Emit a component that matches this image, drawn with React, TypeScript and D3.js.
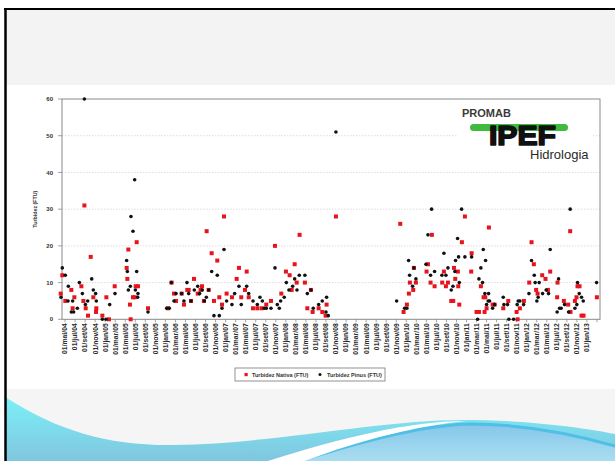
import React from "react";
import * as d3 from "d3";

const W = 615;
const H = 461;

// Bimonthly axis labels (positions 0..52 along the sampling axis)
const xTickLabels: string[] = [
  "01/mai/04", "01/jul/04", "01/set/04", "01/nov/04",
  "01/jan/05", "01/mar/05", "01/mai/05", "01/jul/05", "01/set/05", "01/nov/05",
  "01/jan/06", "01/mar/06", "01/mai/06", "01/jul/06", "01/set/06", "01/nov/06",
  "01/jan/07", "01/mar/07", "01/mai/07", "01/jul/07", "01/set/07", "01/nov/07",
  "01/jan/08", "01/mar/08", "01/mai/08", "01/jul/08", "01/set/08", "01/nov/08",
  "01/jan/09", "01/mar/09", "01/mai/09", "01/jul/09", "01/set/09", "01/nov/09",
  "01/jan/10", "01/mar/10", "01/mai/10", "01/jul/10", "01/set/10", "01/nov/10",
  "01/jan/11", "01/mar/11", "01/mai/11", "01/jul/11", "01/set/11", "01/nov/11",
  "01/jan/12", "01/mar/12", "01/mai/12", "01/jul/12", "01/set/12", "01/nov/12",
  "01/jan/13",
];

const yTicks: number[] = [0, 10, 20, 30, 40, 50, 60];

// [position on the bimonthly axis, turbidity in FTU]
const turbidezNativa: [number, number][] = [
  [-0.43, 7], [-0.27, 12], [0.03, 5], [0.63, 8], [0.76, 3], [0.93, 6], [1.63, 9], [1.83, 5],
  [1.93, 31], [2.06, 3], [2.29, 1], [2.56, 17], [2.82, 6], [3.09, 2], [3.12, 3], [3.72, 1],
  [4.12, 6], [4.38, 0], [4.95, 9], [6.14, 14], [6.21, 11], [6.31, 19], [6.47, 4], [6.54, 0],
  [6.77, 6], [6.94, 6], [7.04, 9], [7.14, 21], [7.27, 9], [8.27, 3], [10.26, 3], [10.62, 10],
  [10.86, 7], [11.06, 5], [11.62, 7], [11.85, 4], [12.18, 8], [12.32, 8], [12.55, 5], [12.85, 11],
  [13.22, 7], [13.51, 8], [13.65, 9], [13.84, 5], [14.11, 24], [14.31, 8], [14.61, 18], [14.84, 5],
  [15.17, 16], [15.37, 6], [15.64, 4], [15.84, 28], [16.1, 7], [16.63, 6], [17.1, 11], [17.33, 14],
  [17.56, 6], [17.93, 8], [18.1, 13], [18.3, 6], [18.73, 3], [19.16, 3], [19.59, 3], [20.05, 4],
  [20.52, 5], [20.92, 20], [21.55, 7], [22.01, 13], [22.38, 12], [22.58, 8], [22.88, 15], [23.08, 10],
  [23.37, 23], [23.9, 10], [24.14, 3], [24.5, 8], [24.67, 2], [25.27, 3], [25.63, 2], [25.96, 1],
  [26.06, 4], [26.99, 28],
  [33.4, 26], [33.73, 2], [34.06, 4], [34.26, 7], [34.36, 10], [34.69, 8], [34.76, 14], [34.96, 10],
  [36.02, 13], [36.16, 15], [36.42, 10], [36.55, 23], [36.82, 9], [37.58, 10], [37.75, 13], [37.95, 9],
  [38.15, 10], [38.48, 5], [38.68, 5], [38.75, 14], [38.88, 11], [39.14, 13], [39.18, 9], [39.28, 4],
  [39.54, 21], [39.84, 28], [40.47, 13], [40.51, 18], [41.0, 2], [41.24, 2], [41.43, 9], [41.7, 6],
  [41.8, 2], [41.87, 6], [42.0, 3], [42.23, 25], [42.6, 4], [42.8, 4], [43.66, 3], [44.16, 5],
  [44.99, 2], [45.09, 0], [45.32, 3], [45.72, 5], [46.25, 10], [46.48, 21], [46.71, 15], [46.94, 8],
  [47.08, 7], [47.54, 12], [47.87, 11], [48.11, 8], [48.34, 13], [49.03, 6], [49.07, 10], [49.7, 5],
  [50.13, 4], [50.33, 24], [50.36, 2], [50.8, 5], [50.96, 6], [51.06, 9], [51.26, 9], [51.46, 1],
  [51.66, 1], [52.99, 6],
];

const turbidezPinus: [number, number][] = [
  [-0.4, 6], [-0.27, 14], [0.03, 12], [0.3, 5], [0.33, 9], [0.63, 2], [0.76, 5], [0.86, 2],
  [1.23, 3], [1.43, 10], [1.73, 7], [1.93, 60], [2.03, 4], [2.26, 5], [2.66, 11], [2.82, 8],
  [3.05, 7], [3.12, 5], [3.72, 0], [4.08, 0], [4.45, 4], [4.98, 7], [6.14, 16], [6.21, 13],
  [6.31, 8], [6.51, 9], [6.57, 28], [6.77, 24], [6.94, 38], [7.01, 8], [7.14, 13], [7.24, 6],
  [7.27, 7], [8.27, 2], [10.13, 3], [10.39, 3], [10.59, 10], [10.86, 5], [11.06, 7], [11.62, 7],
  [11.85, 5], [12.15, 10], [12.32, 7], [12.55, 5], [12.88, 8], [13.22, 9], [13.41, 7], [13.68, 8],
  [13.88, 5], [14.08, 6], [14.31, 8], [14.61, 13], [14.84, 1], [15.17, 12], [15.37, 1], [15.64, 3],
  [15.84, 19], [16.1, 5], [16.63, 4], [16.9, 7], [17.33, 9], [17.56, 4], [18.1, 9], [18.3, 7],
  [18.73, 5], [19.16, 4], [19.42, 6], [19.66, 5], [19.85, 3], [20.05, 3], [20.52, 3], [20.92, 14],
  [21.15, 4], [21.35, 3], [21.48, 5], [21.84, 6], [22.05, 10], [22.31, 8], [22.68, 9], [22.88, 11],
  [23.11, 8], [23.34, 12], [23.9, 12], [24.14, 7], [24.5, 8], [24.73, 3], [25.27, 4], [25.63, 5],
  [26.0, 2], [26.06, 6], [26.23, 1], [26.99, 51],
  [33.04, 5], [33.83, 3], [34.06, 3], [34.23, 16], [34.33, 12], [34.63, 9], [34.76, 14], [34.96, 11],
  [35.96, 15], [36.16, 23], [36.42, 12], [36.52, 30], [36.82, 13], [37.55, 12], [37.75, 18], [37.95, 12],
  [38.15, 14], [38.48, 8], [38.65, 9], [38.84, 13], [38.91, 16], [39.11, 22], [39.21, 17], [39.28, 10],
  [39.51, 30], [39.84, 17], [40.51, 17], [41.11, 0], [41.24, 11], [41.43, 14], [41.6, 10], [41.67, 19],
  [41.83, 7], [41.9, 16], [42.0, 4], [42.16, 5], [42.2, 7], [42.3, 5], [42.6, 3], [42.8, 4],
  [43.66, 6], [43.73, 4], [44.09, 4], [44.22, 0], [44.69, 0], [45.05, 4], [45.15, 5], [45.32, 5],
  [45.69, 4], [46.22, 7], [46.48, 16], [46.75, 12], [46.84, 10], [47.01, 5], [47.14, 6], [47.24, 10],
  [47.58, 7], [47.94, 8], [48.17, 7], [48.34, 19], [49.03, 2], [49.17, 11], [49.27, 3], [49.43, 3],
  [49.77, 4], [50.17, 2], [50.33, 30], [50.8, 3], [50.99, 4], [51.06, 10], [51.23, 7], [51.46, 6],
  [51.63, 5], [52.96, 10],
];

const seriesNames = ["Turbidez Nativa (FTU)", "Turbidez Pinus (FTU)"];
const yTitle = "Turbidez (FTU)";

const RED = "#e8141c";
const BLACK = "#111111";
const AXIS = "#8a8a8a";
const FONT = "'Liberation Sans', Arial, sans-serif";

export default function App() {
  const plot = { left: 62, right: 600, top: 99, bottom: 319.3 };
  const x = d3.scaleLinear().domain([-0.3, 53.3]).range([plot.left, plot.right]);
  const y = d3.scaleLinear().domain([0, 60]).range([plot.bottom, plot.top]);
  const xTickPositions = d3.range(0, xTickLabels.length + 1);

  // Decorative slide waves
  const outerWave =
    "M5,397 C60,432 110,446 175,445 C270,444 380,420 462,420 C530,420 585,428 615,434 L615,461 L5,461 Z";
  const whiteStripe =
    "M268,461 C340,438 410,421 466,421 C420,425 360,440 305,461 Z";
  const innerWave =
    "M300,461 C365,440 425,425 470,424 C530,424 580,436 615,446 L615,461 Z";
  const innerEdge = "M300,461 C365,440 425,425 470,424 C530,424 580,436 615,446";

  return (
    <div style={{ position: "fixed", left: 0, top: 0, width: W, height: H, background: "#fff" }}>
      <svg width={W} height={H} style={{ display: "block" }} fontFamily={FONT}>
        <defs>
          <linearGradient id="outerGrad" x1="0" y1="0" x2="0" y2="1">
            <stop offset="0%" stopColor="#7cf0f7" />
            <stop offset="100%" stopColor="#80c6df" />
          </linearGradient>
          <linearGradient id="innerGrad" x1="0" y1="0" x2="0" y2="1">
            <stop offset="0%" stopColor="#86c6ea" />
            <stop offset="100%" stopColor="#a9def0" />
          </linearGradient>
        </defs>

        {/* slide background */}
        <rect x={0} y={0} width={W} height={H} fill="#ffffff" />
        <rect x={5} y={10} width={W - 5} height={75} fill="#f3f3f3" />
        <rect x={5} y={389} width={W - 5} height={H - 389} fill="#f5f5f5" />
        <path d={outerWave} fill="url(#outerGrad)" />
        <path d={innerWave} fill="url(#innerGrad)" />
        <path d={innerEdge} fill="none" stroke="#4fbfe6" strokeWidth={3} />
        <path d={whiteStripe} fill="#ffffff" />
        <line x1={4} x2={W} y1={9} y2={9} stroke="#000" strokeWidth={2} />
        <line x1={5.5} x2={5.5} y1={8} y2={H} stroke="#000" strokeWidth={2.5} />

        {/* gridlines */}
        {yTicks.filter((t) => t > 0 && t < 60).map((t) => (
          <line key={"g" + t} x1={plot.left} x2={plot.right} y1={y(t)} y2={y(t)}
            stroke="#cfcfcf" strokeWidth={0.7} strokeDasharray="1.5,1.5" />
        ))}

        {/* plot frame */}
        <rect x={plot.left} y={plot.top} width={plot.right - plot.left} height={plot.bottom - plot.top}
          fill="none" stroke={AXIS} strokeWidth={1} />

        {/* y axis */}
        {yTicks.map((t) => (
          <g key={"y" + t}>
            <line x1={plot.left - 4} x2={plot.left} y1={y(t)} y2={y(t)} stroke={AXIS} strokeWidth={0.8} />
            <text x={plot.left - 9} y={y(t)} dy="0.35em" textAnchor="end" fontSize={6}
              fontWeight="bold" fill="#333">{t}</text>
          </g>
        ))}
        <text transform={`translate(36.5,${(plot.top + plot.bottom) / 2}) rotate(-90)`}
          textAnchor="middle" fontSize={5.3} fontWeight="bold" fill="#333">{yTitle}</text>

        {/* x axis */}
        {xTickPositions.map((t) => (
          <line key={"xt" + t} x1={x(t)} x2={x(t)} y1={plot.bottom} y2={plot.bottom + 3}
            stroke={AXIS} strokeWidth={0.8} />
        ))}
        {xTickLabels.map((lab, i) => (
          <text key={"xl" + i} transform={`translate(${x(i)},${plot.bottom + 4}) rotate(-90)`}
            dy="0.35em" textAnchor="end" fontSize={6.8} fontWeight="bold" fill="#2a2a2a">{lab}</text>
        ))}

        {/* logo */}
        <rect x={458} y={104} width={135} height={58} fill="#ffffff" />
        <text x={462} y={117.3} fontSize={11} fontWeight="bold" fill="#3a3a3a">PROMAB</text>
        <rect x={470} y={124} width={98} height={7} rx={3.5} fill="#3fba3f" />
        <text x={489} y={145} fontSize={27} fontWeight="bold" fill="#111" stroke="#111"
          strokeWidth={1.6} strokeLinejoin="round"
          textLength={67} lengthAdjust="spacingAndGlyphs">IPEF</text>
        <text x={530} y={158.5} fontSize={13} fill="#2a2a2a">Hidrologia</text>

        {/* series */}
        {turbidezNativa.map(([t, v], i) => (
          <rect key={"n" + i} x={x(t) - 2} y={y(v) - 2} width={4} height={4} fill={RED} />
        ))}
        {turbidezPinus.map(([t, v], i) => (
          <circle key={"p" + i} cx={x(t)} cy={y(v)} r={1.8} fill={BLACK} />
        ))}

        {/* legend */}
        <rect x={235} y={368} width={150} height={13} fill="#fff" stroke="#777" strokeWidth={0.8} />
        <rect x={244.5} y={373} width={3.2} height={3.2} fill={RED} />
        <text x={252} y={376.6} fontSize={5.5} fontWeight="bold" fill="#333">{seriesNames[0]}</text>
        <circle cx={320} cy={374.6} r={1.5} fill={BLACK} />
        <text x={327} y={376.6} fontSize={5.5} fontWeight="bold" fill="#333">{seriesNames[1]}</text>
      </svg>
    </div>
  );
}
